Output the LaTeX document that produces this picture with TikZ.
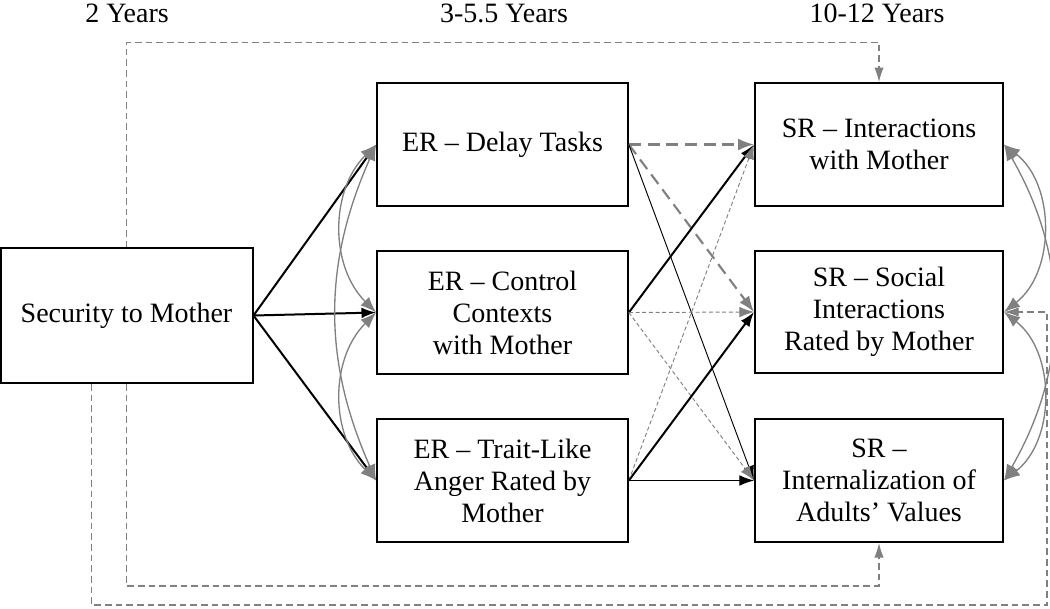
\documentclass[tikz,border=0pt]{standalone}
\usepackage{fontspec}
\setmainfont{Liberation Serif}
\usetikzlibrary{arrows.meta}
\definecolor{linkgray}{gray}{0.5}
\tikzset{
  box node/.style={
    draw,
    line width=1.5pt,
    align=center,
    inner sep=2pt,
    minimum width=188pt,
    minimum height=92pt,
    font=\fontsize{21}{24}\selectfont,
  },
  year label/.style={font=\fontsize{21}{24}\selectfont},
  path arrow/.style={line width=1.5pt, -{Latex[length=11pt,width=8pt]}},
  thin arrow/.style={line width=0.7pt, -{Latex[length=11pt,width=8pt]}},
  cov arrow/.style={linkgray, line width=1pt,
    {Latex[length=12pt,width=9pt]}-{Latex[length=12pt,width=9pt]}},
  dash link/.style={linkgray, line width=1pt, dash pattern=on 5pt off 3pt,
    -{Latex[length=11pt,width=7pt]}},
  thick dash/.style={linkgray, line width=1.6pt, dash pattern=on 9pt off 5pt,
    -{Latex[length=12pt,width=9pt]}},
  thin dash/.style={linkgray, line width=0.7pt, dash pattern=on 3pt off 2pt,
    -{Latex[length=11pt,width=8pt]}},
}
\begin{document}
\begin{tikzpicture}[x=0.75pt, y=-0.75pt]
      \useasboundingbox (0,0) rectangle (1050,608);

      \node[year label] (y1) at (127,13) {2 Years};
      \node[year label] (y2) at (504,13) {3-5.5 Years};
      \node[year label] (y3) at (877,13) {10-12 Years};

      \node[box node, minimum width=189pt, minimum height=101pt] (sec) at (126.5,315.5) {Security to Mother};
      \node[box node] (er1) at (502.5,144.5) {ER – Delay Tasks};
      \node[box node] (er2) at (502.5,312.5) {ER – Control\\Contexts\\with Mother};
      \node[box node] (er3) at (502.5,480.5) {ER – Trait-Like\\Anger Rated by\\Mother};
      \node[box node, minimum width=186pt] (sr1) at (879,144.5) {SR – Interactions\\with Mother};
      \node[box node, minimum width=186pt] (sr2) at (879,312) {SR – Social\\Interactions\\Rated by Mother};
      \node[box node, minimum width=186pt] (sr3) at (879,480.5) {SR –\\Internalization of\\Adults’ Values};

      % paths from attachment security
      \draw[path arrow] (sec.east) -- (er1.west);
      \draw[path arrow] (sec.east) -- (er2.west);
      \draw[path arrow] (sec.east) -- (er3.west);

      % covariances
      \draw[cov arrow] (er1.west) to[bend right=45] (er2.west);
      \draw[cov arrow] (er2.west) to[bend right=45] (er3.west);
      \draw[cov arrow] (er1.west) to[bend right=24] (er3.west);
      \draw[cov arrow] (sr1.east) to[bend left=52] (sr2.east);
      \draw[cov arrow] (sr2.east) to[bend left=52] (sr3.east);
      \draw[cov arrow] (sr1.east) to[bend left=30] (sr3.east);

      % ER -> SR
      \draw[thick dash] (er1.east) -- (sr1.west);
      \draw[thick dash] (er1.east) -- (sr2.west);
      \draw[thin arrow] (er1.east) -- (sr3.west);
      \draw[path arrow] (er2.east) -- (sr1.west);
      \draw[thin dash] (er2.east) -- (sr2.west);
      \draw[thin dash] (er2.east) -- (sr3.west);
      \draw[thin dash] (er3.east) -- (sr1.west);
      \draw[path arrow] (er3.east) -- (sr2.west);
      \draw[thin arrow] (er3.east) -- (sr3.west);

      % direct paths
      \draw[dash link] (sec.north) -- ++(0,-205) -| (sr1.north);
      \draw[dash link] (sec.south) -- ++(0,202) -| (sr3.south);
      \draw[dash link] ([xshift=-26.25pt]sec.south) |- (1047,605) |- (sr2.east);
    \end{tikzpicture}
\end{document}
